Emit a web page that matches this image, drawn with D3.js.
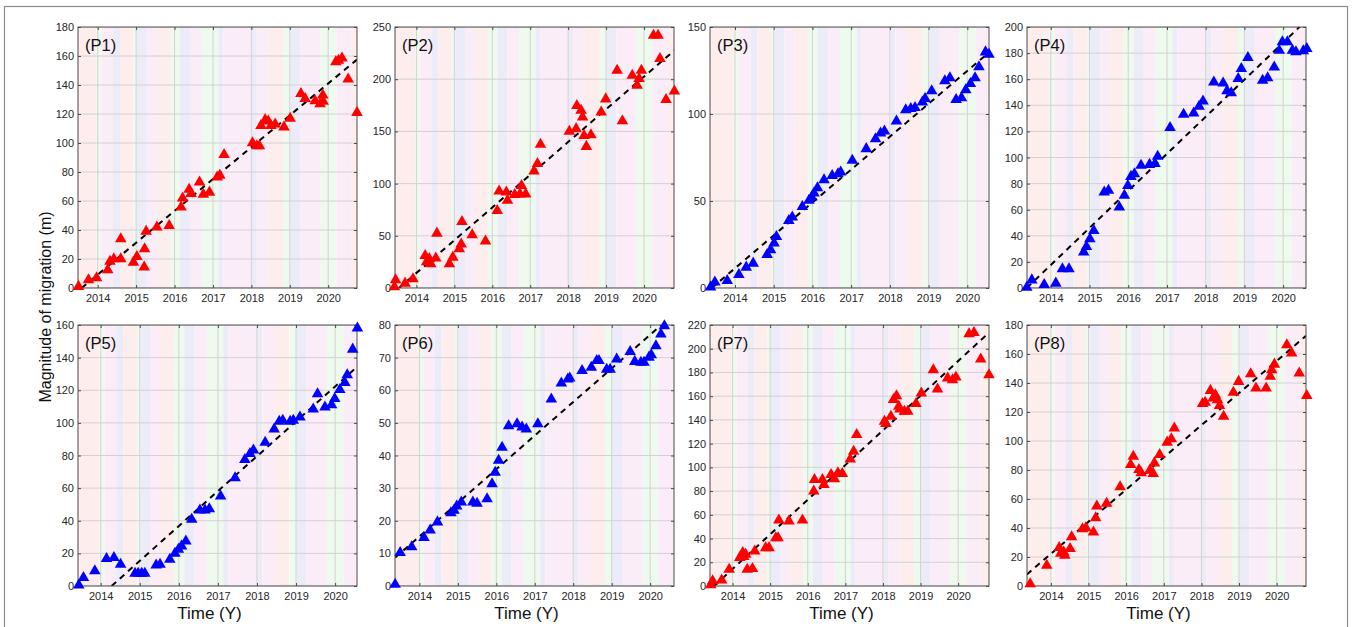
<!DOCTYPE html>
<html>
<head>
<meta charset="utf-8">
<script src="https://cdn.jsdelivr.net/npm/d3@7"></script>
<style>
body { margin: 0; background: #fff; }
text { font-family: Arial, "Liberation Sans", sans-serif; }
</style>
</head>
<body>
<div id="chart"></div>
<script>
// panel settings
var panelNames = ["(P1)", "(P2)", "(P3)", "(P4)", "(P5)", "(P6)", "(P7)", "(P8)"];
var panelColors = ["#ff0000", "#ff0000", "#0000ff", "#0000ff", "#0000ff", "#0000ff", "#ff0000", "#ff0000"];
var yMaxes = [180, 250, 150, 200, 160, 80, 220, 180];
var ySteps = [20, 50, 50, 20, 20, 10, 20, 20];
var xDomains = [[2013.487, 2020.75], [2013.435, 2020.79], [2013.355, 2020.56], [2013.386, 2020.59],
                [2013.42, 2020.56], [2013.366, 2020.62], [2013.40, 2020.82], [2013.365, 2020.78]];
var yearTicks = [2014, 2015, 2016, 2017, 2018, 2019, 2020];

// dashed trend lines, read as [start, end] points
var fits = [
  [[2013.58, 0], [2020.75, 157.5]],
  [[2013.54, 0], [2020.80, 227.6]],
  [[2013.40, 0], [2020.56, 135.4]],
  [[2013.38, 0], [2020.59, 204.8]],
  [[2014.28, 0], [2020.57, 134.5]],
  [[2013.37, 8.7], [2020.62, 83.4]],
  [[2013.51, 0], [2020.82, 213.6]],
  [[2013.36, 8], [2020.78, 172.5]]
];

// seasonal background bands (start year, kind)
var bandStarts = [2013.0, 2013.97, 2014.10, 2014.40, 2014.58, 2014.93, 2015.02, 2015.28, 2015.54, 2015.88,
                  2016.14, 2016.40, 2016.71, 2017.14, 2017.27, 2018.01, 2018.14, 2018.44, 2018.83, 2019.01,
                  2019.27, 2019.79, 2020.22, 2020.6];
var bandKinds = ["r", "g", "m", "b", "r", "g", "b", "m", "r", "g",
                 "b", "m", "g", "b", "m", "b", "m", "r", "g", "b",
                 "m", "g", "m", "r"];
var bandFill = { r: "#fdeded", g: "#edfaed", b: "#ececf8", m: "#fbedf8" };

// migration points [year, metres]
var p1 = [[2013.50,1],[2013.76,5.5],[2013.97,7],[2014.26,12.4],[2014.32,18.4],[2014.42,20],[2014.60,20],[2014.60,33.8],
  [2014.93,17.7],[2015.02,21.6],[2015.21,14.3],[2015.22,27],[2015.26,39],[2015.54,42],[2015.86,43],[2016.17,55.7],
  [2016.21,62],[2016.38,68],[2016.43,65],[2016.65,73],[2016.75,64.5],[2016.91,66],[2017.11,76.4],[2017.18,77.6],
  [2017.29,92],[2018.03,100],[2018.14,98],[2018.21,98],[2018.25,112],[2018.36,116],[2018.44,115],[2018.51,112],
  [2018.62,113],[2018.85,111],[2019.01,117],[2019.29,134],[2019.40,130.5],[2019.66,129],[2019.79,127],[2019.86,133],
  [2019.87,128.7],[2020.20,156],[2020.27,157],[2020.36,158.5],[2020.52,144],[2020.75,121]];
var p2 = [[2013.42,1],[2013.45,7.7],[2013.70,4.5],[2013.91,8.6],[2014.23,31],[2014.27,25],[2014.34,28],[2014.38,23],
  [2014.51,28.5],[2014.54,52.4],[2014.87,23],[2014.96,29.4],[2015.13,37.4],[2015.18,42],[2015.20,63.6],[2015.47,50.8],
  [2015.82,44.8],[2016.13,74],[2016.18,92.7],[2016.37,91.8],[2016.40,83.8],[2016.59,89.5],[2016.73,90],[2016.77,98],
  [2016.88,90],[2017.10,112],[2017.19,119],[2017.27,137.5],[2018.03,150],[2018.21,152.5],[2018.23,174.6],[2018.34,170],
  [2018.38,163.7],[2018.42,146],[2018.48,135.5],[2018.60,146.7],[2018.87,168.5],[2018.99,181],[2019.29,208.4],
  [2019.43,160],[2019.69,203.6],[2019.82,194],[2019.87,200.4],[2019.93,208.4],[2020.25,242],[2020.37,242],
  [2020.42,219.6],[2020.58,180.3],[2020.80,188.6]];
var p3 = [[2013.37,0.5],[2013.48,3.3],[2013.80,4.2],[2014.10,7.7],[2014.29,11.9],[2014.47,14.2],[2014.83,19.2],
  [2014.92,21.9],[2015.01,25.7],[2015.07,29.5],[2015.39,38.7],[2015.48,40.7],[2015.74,46.8],[2015.91,50.3],
  [2015.98,52.2],[2016.04,54.5],[2016.13,57.5],[2016.30,62.1],[2016.51,64.6],[2016.66,65.6],[2016.73,66.6],
  [2017.03,73.3],[2017.39,80],[2017.63,85.7],[2017.76,89],[2017.86,90.1],[2018.17,95.9],[2018.41,102.4],
  [2018.54,103],[2018.65,103.6],[2018.84,106.8],[2018.91,108.8],[2019.08,113.2],[2019.42,119],[2019.55,120.8],
  [2019.71,108.2],[2019.85,109.3],[2019.96,113.9],[2020.08,117.4],[2020.20,120.8],[2020.30,127],[2020.47,135.6],
  [2020.56,134.3]];
var p4 = [[2013.38,0.5],[2013.51,6.1],[2013.83,2.6],[2014.13,3.6],[2014.30,14.6],[2014.47,14.6],[2014.85,27.4],
  [2014.92,31.7],[2015.01,37.6],[2015.11,44],[2015.38,73.4],[2015.49,74.7],[2015.77,61.9],[2015.90,70.9],
  [2015.99,78.5],[2016.07,85.4],[2016.16,87.5],[2016.33,93.9],[2016.55,94.6],[2016.69,95.2],[2016.76,100.8],
  [2017.08,122.8],[2017.43,133],[2017.69,134],[2017.83,139.2],[2017.93,143.2],[2018.21,157.8],[2018.45,157],
  [2018.55,151],[2018.66,149.4],[2018.84,160.4],[2018.92,168],[2019.09,176.5],[2019.47,159.1],[2019.60,160.9],
  [2019.77,169.3],[2019.90,182.1],[2019.98,188.5],[2020.11,188.5],[2020.24,182.1],[2020.33,180.9],[2020.52,181.6],
  [2020.61,183.4]];
var p5 = [[2013.44,0.5],[2013.56,5.1],[2013.85,9.2],[2014.15,16.7],[2014.34,17.3],[2014.51,13.2],[2014.88,7.7],
  [2014.96,7.7],[2015.05,7.7],[2015.13,7.7],[2015.42,12.8],[2015.52,13.2],[2015.77,16.3],[2015.90,20],[2015.99,22.4],
  [2016.07,24.5],[2016.18,27.5],[2016.33,40.8],[2016.54,46.5],[2016.67,46.5],[2016.78,47.3],[2017.07,55],
  [2017.44,66.2],[2017.69,77.4],[2017.82,81.1],[2017.91,83.2],[2018.21,88],[2018.44,96.2],[2018.57,100.9],
  [2018.66,101.5],[2018.85,100.9],[2018.93,101.5],[2019.10,103.5],[2019.44,108.4],[2019.55,117.8],[2019.74,109.6],
  [2019.91,111],[2019.99,114.8],[2020.12,120.3],[2020.25,124.7],[2020.31,129.4],[2020.45,145.1],[2020.57,158]];
var p6 = [[2013.37,0.5],[2013.50,10.2],[2013.80,12],[2014.12,14.8],[2014.28,17.1],[2014.47,19.6],[2014.82,22.4],
  [2014.90,23.2],[2014.97,24.5],[2015.09,25.7],[2015.39,25.7],[2015.50,25.3],[2015.76,26.7],[2015.89,31.3],
  [2015.97,34.8],[2016.06,38.5],[2016.15,42.5],[2016.32,49.1],[2016.54,49.7],[2016.67,48.7],[2016.78,48.1],
  [2017.08,49.7],[2017.43,57.3],[2017.69,62.2],[2017.86,63.4],[2017.91,63.7],[2018.23,66],[2018.47,67],
  [2018.61,69.1],[2018.67,69.1],[2018.87,66.4],[2018.96,66.4],[2019.13,69.5],[2019.48,71.8],[2019.60,68.8],
  [2019.76,68.5],[2019.84,68.5],[2019.97,70.1],[2020.03,70.8],[2020.15,73.6],[2020.28,77.2],[2020.37,79.7]];
var p7 = [[2013.42,1],[2013.47,4.2],[2013.71,5],[2013.91,14],[2014.19,23.8],[2014.27,28],[2014.30,24.7],[2014.35,26.6],
  [2014.39,14],[2014.53,14.6],[2014.59,29.4],[2014.88,32.2],[2014.97,32.2],[2015.15,40.6],[2015.21,40.6],[2015.23,55.5],
  [2015.50,54.7],[2015.86,55.5],[2016.16,79.9],[2016.18,89.7],[2016.39,89.7],[2016.43,85.5],[2016.62,93.9],
  [2016.71,90.3],[2016.80,95.3],[2016.92,94.7],[2017.13,107],[2017.22,113.5],[2017.30,127.5],[2018.04,138.7],
  [2018.08,136.8],[2018.21,143],[2018.28,157],[2018.36,160.3],[2018.42,151.4],[2018.45,149.1],[2018.57,147.2],
  [2018.66,147.2],[2018.88,153.6],[2019.02,162.6],[2019.34,182.2],[2019.45,166],[2019.72,175.2],[2019.85,173.8],
  [2019.94,176],[2020.29,212.5],[2020.42,213.6],[2020.60,191.2],[2020.82,178]];
var p8 = [[2013.45,1.5],[2013.89,14.2],[2014.22,26.4],[2014.26,22.5],[2014.34,23.4],[2014.37,21.1],[2014.51,25.7],
  [2014.55,33.9],[2014.84,39.4],[2014.93,40.1],[2015.13,37.1],[2015.19,47],[2015.22,55],[2015.48,56.9],[2015.84,68.3],
  [2016.12,83.7],[2016.19,89.4],[2016.34,80.3],[2016.40,78],[2016.63,79.8],[2016.72,77.5],[2016.75,84.8],
  [2016.89,90.6],[2017.09,99.1],[2017.20,101.4],[2017.28,108.9],[2018.03,125.7],[2018.10,126.6],[2018.24,134.8],
  [2018.31,129.6],[2018.37,131.8],[2018.43,128.4],[2018.48,124.3],[2018.59,116.9],[2018.85,133.5],[2018.99,141],
  [2019.31,146.3],[2019.45,136.4],[2019.72,136.4],[2019.83,144.5],[2019.87,149],[2019.94,152.9],[2020.27,166.2],
  [2020.40,160.5],[2020.60,146.8],[2020.80,131.2]];
var panelData = [p1, p2, p3, p4, p5, p6, p7, p8];

var width = 1352, height = 627;
var lefts = [78, 395, 710, 1027], tops = [27, 325];
var pw = 279, ph = 261;

var svg = d3.select("#chart").append("svg")
  .attr("width", width)
  .attr("height", height);

// outer frame
svg.append("rect")
  .attr("x", 4.5).attr("y", 6.5)
  .attr("width", 1343).attr("height", 630)
  .attr("fill", "none")
  .attr("stroke", "#8a8a8a")
  .attr("stroke-width", 1.2);

var defs = svg.append("defs");

panelData.forEach(function(data, i) {
  var col = i % 4, row = Math.floor(i / 4);
  var g = svg.append("g")
    .attr("transform", "translate(" + lefts[col] + "," + tops[row] + ")");

  var x = d3.scaleLinear().domain(xDomains[i]).range([0, pw]);
  var y = d3.scaleLinear().domain([0, yMaxes[i]]).range([ph, 0]);
  var yTicks = d3.range(0, yMaxes[i] + 0.001, ySteps[i]);

  defs.append("clipPath").attr("id", "clip" + i)
    .append("rect").attr("width", pw).attr("height", ph);

  var inner = g.append("g").attr("clip-path", "url(#clip" + i + ")");

  // background bands
  inner.selectAll(".band")
    .data(bandStarts)
    .enter().append("rect")
    .attr("class", "band")
    .attr("x", function(d) { return x(d); })
    .attr("y", 0)
    .attr("width", function(d, j) {
      var end = j + 1 < bandStarts.length ? bandStarts[j + 1] : 2022;
      return Math.max(0, x(end) - x(d));
    })
    .attr("height", ph)
    .attr("fill", function(d, j) { return bandFill[bandKinds[j]]; });

  // grid
  inner.selectAll(".vg").data(yearTicks).enter().append("line")
    .attr("x1", function(d) { return x(d); }).attr("x2", function(d) { return x(d); })
    .attr("y1", 0).attr("y2", ph)
    .attr("stroke", "#d2d2d2").attr("stroke-width", 1);
  inner.selectAll(".hg").data(yTicks).enter().append("line")
    .attr("y1", function(d) { return y(d); }).attr("y2", function(d) { return y(d); })
    .attr("x1", 0).attr("x2", pw)
    .attr("stroke", "#d2d2d2").attr("stroke-width", 1);

  // trend line
  inner.append("line")
    .attr("x1", x(fits[i][0][0])).attr("y1", y(fits[i][0][1]))
    .attr("x2", x(fits[i][1][0])).attr("y2", y(fits[i][1][1]))
    .attr("stroke", "#000")
    .attr("stroke-width", 2)
    .attr("stroke-dasharray", "6,5");

  // axes (ticks pointing inward)
  g.append("g").call(d3.axisLeft(y).tickValues(yTicks).tickSizeInner(-3).tickSizeOuter(0).tickPadding(4))
    .call(styleAxis);
  g.append("g").attr("transform", "translate(0," + ph + ")")
    .call(d3.axisBottom(x).tickValues(yearTicks).tickFormat(d3.format("d")).tickSizeInner(-3).tickSizeOuter(0).tickPadding(6))
    .call(styleAxis);
  g.append("g").call(d3.axisTop(x).tickValues(yearTicks).tickFormat("").tickSizeInner(-3).tickSizeOuter(0))
    .call(styleAxis);
  g.append("g").attr("transform", "translate(" + pw + ",0)")
    .call(d3.axisRight(y).tickValues(yTicks).tickFormat("").tickSizeInner(-3).tickSizeOuter(0))
    .call(styleAxis);

  g.append("rect")
    .attr("width", pw).attr("height", ph)
    .attr("fill", "none")
    .attr("stroke", "#4a4a4a")
    .attr("stroke-width", 1);

  // points
  g.selectAll(".pt")
    .data(data)
    .enter().append("path")
    .attr("class", "pt")
    .attr("d", d3.symbol().type(d3.symbolTriangle).size(58))
    .attr("transform", function(d) { return "translate(" + x(d[0]) + "," + y(d[1]) + ")"; })
    .attr("fill", panelColors[i]);

  g.append("text")
    .attr("x", 7).attr("y", 24)
    .attr("font-size", "16.5px")
    .attr("fill", "#111")
    .text(panelNames[i]);

  if (row === 1) {
    g.append("text")
      .attr("x", pw / 2 - 8).attr("y", ph + 33)
      .attr("text-anchor", "middle")
      .attr("font-size", "17px")
      .attr("fill", "#111")
      .text("Time (Y)");
  }
});

function styleAxis(sel) {
  sel.select(".domain").remove();
  sel.selectAll(".tick line").attr("stroke", "#4a4a4a");
  sel.selectAll(".tick text")
    .attr("fill", "#262626")
    .style("font-size", "11px")
    .style("font-family", "Arial, 'Liberation Sans', sans-serif");
}

svg.append("text")
  .attr("transform", "translate(51,307) rotate(-90)")
  .attr("text-anchor", "middle")
  .attr("font-size", "16px")
  .attr("fill", "#111")
  .text("Magnitude of migration (m)");
</script>
</body>
</html>
